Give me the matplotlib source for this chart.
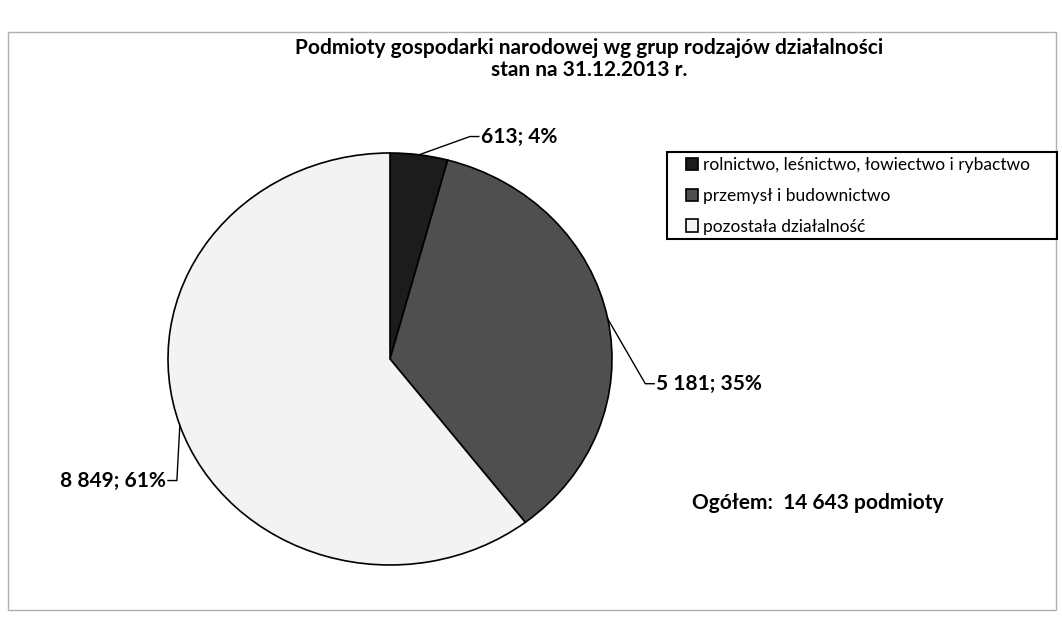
import numpy as np
import matplotlib.pyplot as plt
from matplotlib.patches import Rectangle

plt.rcParams['font.family'] = ['Lato', 'DejaVu Sans']

# dane
kategorie = ['rolnictwo, leśnictwo, łowiectwo i rybactwo',
             'przemysł i budownictwo',
             'pozostała działalność']
wartosci = [613, 5181, 8849]
procenty = [4, 35, 61]
kolory = ['#1c1c1c', '#4f4f4f', '#f3f3f3']

tytul = 'Podmioty gospodarki narodowej wg grup rodzajów działalności\nstan na 31.12.2013 r.'
ogolem = 'Ogółem:  14 643 podmioty'


def fmt(v):
    return f'{v:,}'.replace(',', ' ')


fig = plt.figure(figsize=(10.62, 6.22), dpi=100)
fig.patch.set_facecolor('white')

# ramka wykresu
fig.patches.append(Rectangle((8 / 1062, 12 / 622), 1048 / 1062, 578 / 622,
                             transform=fig.transFigure, fill=False,
                             edgecolor='#b0b0b0', linewidth=1.0))

fig.text(589 / 1062, 1 - 38 / 622, tytul, ha='center', va='top', fontsize=15,
         fontweight='bold', linespacing=1.15)

ax = fig.add_axes([168 / 1062, 57 / 622, 444 / 1062, 412 / 622])
wedges, _ = ax.pie(wartosci, colors=kolory, startangle=90, counterclock=False,
                   wedgeprops=dict(edgecolor='black', linewidth=1.2))
ax.set_aspect('auto')
ax.set_xlim(-1, 1)
ax.set_ylim(-1, 1)
for w in wedges:
    w.set_clip_on(False)

# etykiety danych z liniami odniesienia
pozycje = [(0.40, 1.08), (1.19, -0.12), (-1.00, -0.59)]
for w, v, p, (tx, ty) in zip(wedges, wartosci, procenty, pozycje):
    kat = np.deg2rad((w.theta1 + w.theta2) / 2)
    ex, ey = np.cos(kat), np.sin(kat)
    etykieta = f'{fmt(v)}; {p}%'
    if tx > 0:
        ax.plot([ex, tx - 0.04, tx], [ey, ty, ty], color='black', lw=1,
                clip_on=False)
        ax.text(tx + 0.01, ty, etykieta, ha='left', va='center', fontsize=15,
                fontweight='bold')
    else:
        ax.plot([ex, tx + 0.04, tx], [ey, ty, ty], color='black', lw=1,
                clip_on=False)
        ax.text(tx - 0.01, ty, etykieta, ha='right', va='center', fontsize=15,
                fontweight='bold')

# legenda: ramka rysowana osobno (wieksze marginesy po bokach)
fig.patches.append(Rectangle((667 / 1062, 1 - 239 / 622), 390 / 1062, 87 / 622,
                             transform=fig.transFigure, fill=False,
                             edgecolor='black', linewidth=1.5))
leg = fig.legend(wedges, kategorie, loc='upper left',
                 bbox_to_anchor=(686 / 1062, 1 - 157 / 622),
                 bbox_transform=fig.transFigure, fontsize=12.5, frameon=False,
                 handlelength=0.7, handleheight=0.7, handletextpad=0.3,
                 labelspacing=0.85, borderpad=0, borderaxespad=0)

fig.text(943 / 1062, 1 - 503 / 622, ogolem, ha='right', va='center',
         fontsize=15, fontweight='bold')

plt.savefig('out.png', dpi=100)
